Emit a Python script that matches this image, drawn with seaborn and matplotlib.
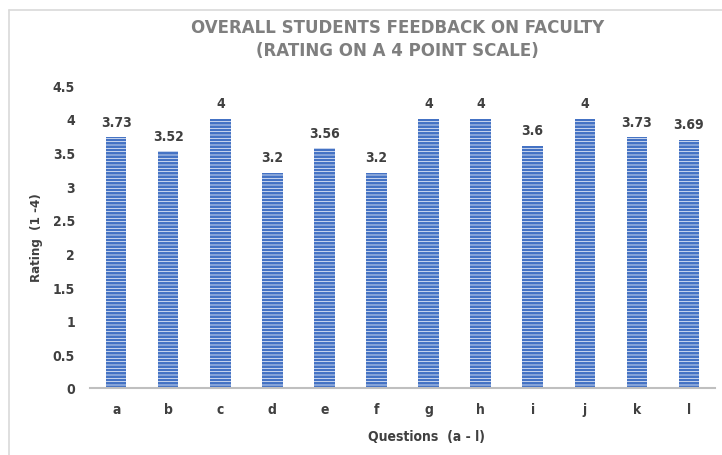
import matplotlib
matplotlib.use("Agg")
import matplotlib.pyplot as plt
import seaborn as sns
import pandas as pd

# ========================
# Data
# ========================
questions = ['a', 'b', 'c', 'd', 'e', 'f', 'g', 'h', 'i', 'j', 'k', 'l']
ratings = [3.73, 3.52, 4, 3.2, 3.56, 3.2, 4, 4, 3.6, 4, 3.73, 3.69]
value_labels = ['3.73', '3.52', '4', '3.2', '3.56', '3.2', '4', '4', '3.6', '4', '3.73', '3.69']
y_ticks = [0, 0.5, 1, 1.5, 2, 2.5, 3, 3.5, 4, 4.5]
y_tick_labels = ['0', '0.5', '1', '1.5', '2', '2.5', '3', '3.5', '4', '4.5']

df = pd.DataFrame({'question': questions, 'rating': ratings})

# ========================
# Style
# ========================
sns.set_style("white")
plt.rcParams['font.family'] = ['DejaVu Sans']
plt.rcParams['font.stretch'] = 'condensed'
plt.rcParams['hatch.linewidth'] = 0.5

text_grey = '#404040'
bar_blue = '#4472C4'

fig = plt.figure(figsize=(7.22, 4.56), dpi=100)
ax = fig.add_axes([0.125, 0.147, 0.865, 0.664])

sns.barplot(data=df, x='question', y='rating', color=bar_blue, width=0.39,
            saturation=1, hatch='-----', edgecolor='white', linewidth=0, ax=ax)

ax.bar_label(ax.containers[0], labels=value_labels, padding=6,
             fontsize=10, fontweight='bold', color=text_grey)

ax.set_ylim(0, 4.5)
ax.set_xlim(-0.5, 11.5)
ax.set_yticks(y_ticks)
ax.set_yticklabels(y_tick_labels)
ax.tick_params(axis='both', length=0, labelsize=10, labelcolor=text_grey)
ax.tick_params(axis='y', pad=11)
ax.tick_params(axis='x', pad=10)
for lbl in ax.get_xticklabels() + ax.get_yticklabels():
    lbl.set_fontweight('bold')

for side in ['top', 'right', 'left']:
    ax.spines[side].set_visible(False)
ax.spines['bottom'].set_color('#BFBFBF')
ax.spines['bottom'].set_linewidth(1.5)

ax.set_xlabel('Questions  (a - l)', fontsize=10, fontweight='bold', color=text_grey)
ax.xaxis.set_label_coords(0.539, -0.135)
ax.set_ylabel('Rating  (1 -4)', fontsize=9.5, fontweight='bold', color=text_grey, labelpad=7)

fig.text(0.551, 0.914, 'OVERALL STUDENTS FEEDBACK ON FACULTY\n(RATING ON A 4 POINT SCALE)',
         ha='center', va='center', fontsize=12, fontweight='bold', color='#7F7F7F',
         stretch='normal', linespacing=1.35)

# light frame around the chart area
fig.add_artist(plt.Line2D([9 / 722, 1], [1 - 11 / 456, 1 - 11 / 456], color='#D9D9D9', lw=1.2))
fig.add_artist(plt.Line2D([9 / 722, 9 / 722], [0, 1 - 11 / 456], color='#D9D9D9', lw=1.2))

plt.savefig("out.png", dpi=100)
